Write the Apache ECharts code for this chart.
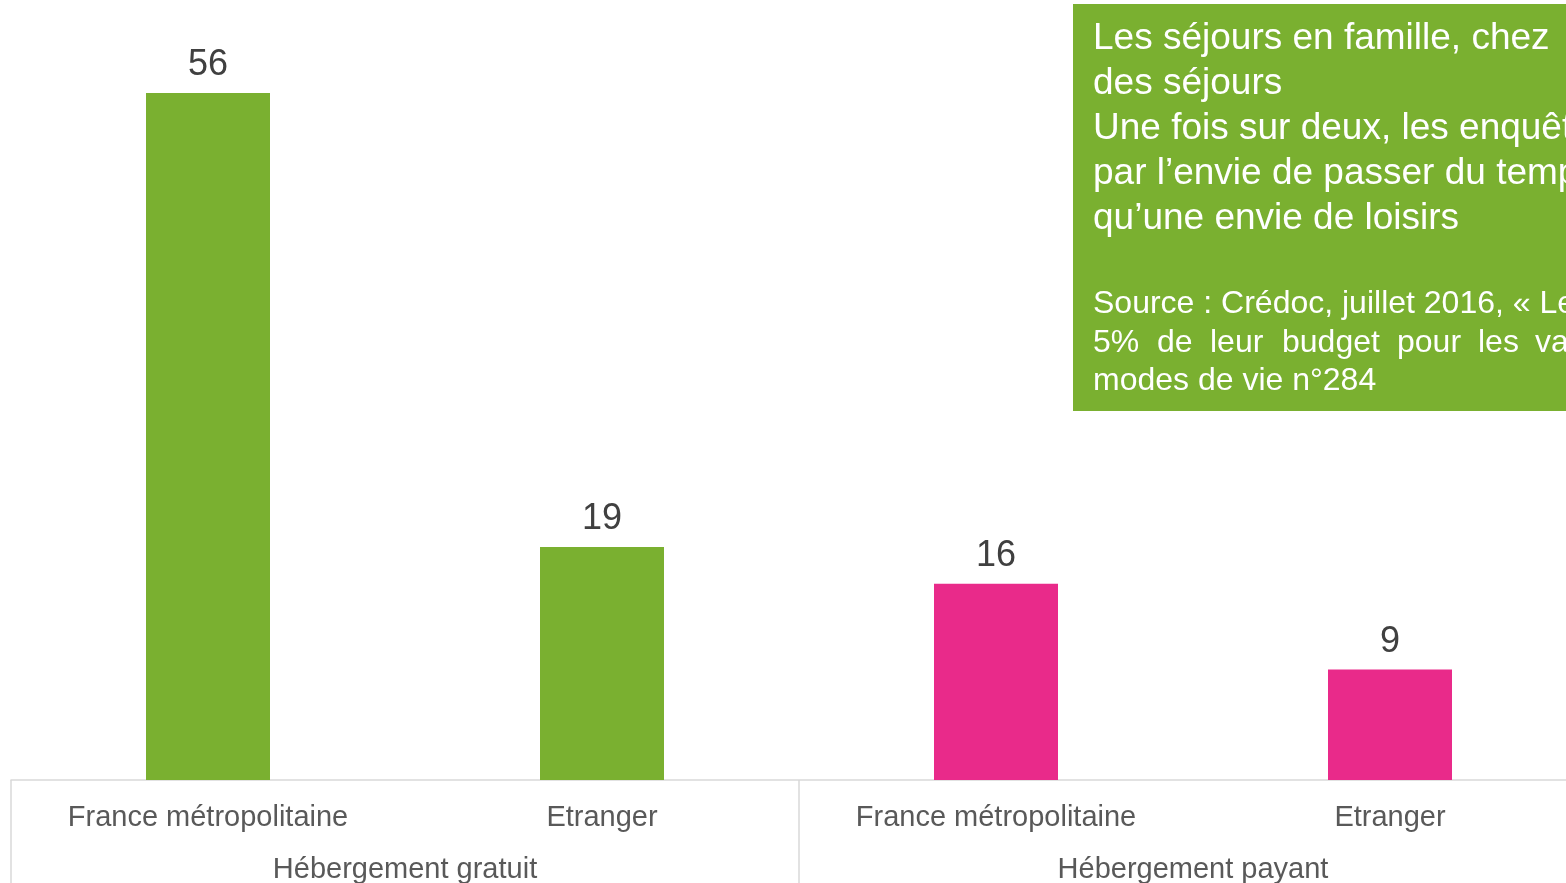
<!DOCTYPE html>
<html>
<head>
<meta charset="utf-8">
<script src="https://cdn.jsdelivr.net/npm/echarts@6/dist/echarts.min.js"></script>
<style>
	html, body { margin: 0; padding: 0; background: #fff; }
	#chart { width: 1566px; height: 883px; }
</style>
</head>
<body>
<div id="chart"></div>
<script>
	var categories = ["France métropolitaine", "Etranger", "France métropolitaine", "Etranger"];
	var groups = ["Hébergement gratuit", "Hébergement payant"];
	var values = [56, 19, 16, 9];
	var barColors = ["#7AB030", "#7AB030", "#E92A8A", "#E92A8A"];

	var headLines = [
		"Les séjours en famille, chez",
		"des séjours",
		"Une fois sur deux, les enquêtés",
		"par l’envie de passer du temps",
		"qu’une envie de loisirs"
	];
	var sourceLine1 = "Source : Crédoc, juillet 2016, « Les";
	var sourceWords = ["5%", "de", "leur", "budget", "pour", "les", "vacances"];
	var sourceLine3 = "modes de vie n°284";

	var font = "'Liberation Sans', Arial, sans-serif";
	var myChart = echarts.init(document.getElementById("chart"));

	var barData = [];
	for (var i = 0; i < values.length; i++) {
		barData.push({ value: values[i], itemStyle: { color: barColors[i] } });
	}

	// text box on the right
	var graphics = [{
		type: "rect",
		left: 1073,
		top: 4,
		shape: { width: 600, height: 407 },
		style: { fill: "#7AB030" }
	}];
	var headY = [39, 84, 129, 174, 219];
	for (var j = 0; j < headLines.length; j++) {
		graphics.push({
			type: "text",
			x: 1093,
			y: headY[j],
			style: {
				text: headLines[j],
				fill: "#fff",
				font: "37px " + font,
				textVerticalAlign: "middle"
			}
		});
	}
	graphics.push({
		type: "text", x: 1093, y: 304,
		style: { text: sourceLine1, fill: "#fff", font: "32px " + font, textVerticalAlign: "middle" }
	});
	var wordX = [1093, 1157, 1210, 1282, 1397, 1478, 1535];
	for (var k = 0; k < sourceWords.length; k++) {
		graphics.push({
			type: "text", x: wordX[k], y: 343,
			style: { text: sourceWords[k], fill: "#fff", font: "32px " + font, textVerticalAlign: "middle" }
		});
	}
	graphics.push({
		type: "text", x: 1093, y: 381,
		style: { text: sourceLine3, fill: "#fff", font: "32px " + font, textVerticalAlign: "middle" }
	});

	var option = {
		animation: false,
		textStyle: { fontFamily: font },
		grid: {
			left: 11,
			top: 44,
			width: 1576,
			bottom: 103,
			containLabel: false,
			outerBoundsMode: "none"
		},
		xAxis: [{
			type: "category",
			data: categories,
			position: "bottom",
			axisLine: { lineStyle: { color: "#D9D9D9", width: 1.5 } },
			axisTick: { show: false },
			axisLabel: { fontSize: 29, color: "#595959", margin: 23, interval: 0 }
		}, {
			type: "category",
			data: groups,
			position: "bottom",
			axisLine: { show: false },
			axisTick: { show: true, length: 103, lineStyle: { color: "#D9D9D9", width: 1.5 } },
			axisLabel: { fontSize: 29, color: "#595959", margin: 75, interval: 0 }
		}],
		yAxis: {
			type: "value",
			min: 0,
			max: 60,
			show: false
		},
		series: [{
			type: "bar",
			xAxisIndex: 0,
			data: barData,
			barWidth: 124,
			label: {
				show: true,
				position: "top",
				distance: 10,
				fontSize: 36,
				color: "#404040"
			}
		}],
		graphic: graphics
	};
	myChart.setOption(option);
</script>
</body>
</html>
